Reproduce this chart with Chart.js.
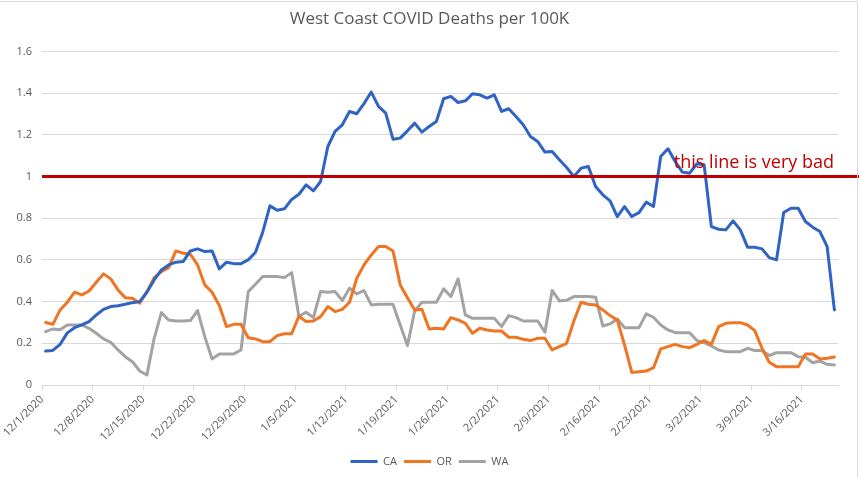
<!DOCTYPE html>
<html>
<head>
<meta charset="utf-8">
<script src="https://cdn.jsdelivr.net/npm/chart.js@4/dist/chart.umd.min.js"></script>
<style>
    html, body { margin: 0; padding: 0; background: #fff; }
    #wrap { width: 859px; height: 477px; position: relative; }
</style>
</head>
<body>
<div id="wrap"><canvas id="deathsChart"></canvas></div>
<script>
// daily values, 12/1/2020 - 3/20/2021
const startDate = new Date(2020, 11, 1);
const dayCount = 110;

const caDeaths = [
    0.163, 0.166, 0.195, 0.25, 0.275, 0.288, 0.304, 0.336, 0.363, 0.376,
    0.38, 0.387, 0.395, 0.40, 0.445, 0.504, 0.552, 0.576, 0.589, 0.592,
    0.643, 0.653, 0.64, 0.643, 0.557, 0.589, 0.582, 0.582, 0.6, 0.637,
    0.733, 0.859, 0.838, 0.845, 0.89, 0.915, 0.96, 0.931, 0.976, 1.144,
    1.216, 1.248, 1.312, 1.301, 1.35, 1.405, 1.336, 1.304, 1.179, 1.184,
    1.219, 1.256, 1.213, 1.24, 1.264, 1.373, 1.384, 1.355, 1.363, 1.397,
    1.392, 1.376, 1.392, 1.312, 1.325, 1.288, 1.248, 1.192, 1.168, 1.117,
    1.12, 1.08, 1.043, 1.0, 1.04, 1.048, 0.952, 0.912, 0.883, 0.808,
    0.856, 0.808, 0.827, 0.877, 0.856, 1.096, 1.133, 1.072, 1.021, 1.016,
    1.061, 1.056, 0.76, 0.747, 0.744, 0.787, 0.744, 0.661, 0.661, 0.653,
    0.611, 0.6, 0.827, 0.848, 0.848, 0.784, 0.757, 0.736, 0.664, 0.36
];

const orDeaths = [
    0.30, 0.291, 0.36, 0.397, 0.445, 0.432, 0.451, 0.493, 0.533, 0.509,
    0.456, 0.419, 0.416, 0.392, 0.448, 0.515, 0.544, 0.563, 0.643, 0.632,
    0.627, 0.576, 0.48, 0.445, 0.381, 0.28, 0.291, 0.291, 0.227, 0.221,
    0.208, 0.208, 0.237, 0.246, 0.246, 0.33, 0.304, 0.307, 0.328, 0.376,
    0.352, 0.363, 0.397, 0.512, 0.576, 0.624, 0.664, 0.664, 0.643, 0.48,
    0.419, 0.36, 0.363, 0.269, 0.272, 0.269, 0.323, 0.312, 0.296, 0.248,
    0.272, 0.264, 0.259, 0.259, 0.229, 0.229, 0.219, 0.213, 0.224, 0.224,
    0.168, 0.184, 0.2, 0.307, 0.397, 0.387, 0.384, 0.36, 0.333, 0.312,
    0.192, 0.06, 0.064, 0.067, 0.083, 0.173, 0.184, 0.195, 0.184, 0.179,
    0.195, 0.213, 0.195, 0.28, 0.296, 0.299, 0.299, 0.288, 0.261, 0.176,
    0.109, 0.088, 0.088, 0.088, 0.088, 0.149, 0.149, 0.125, 0.128, 0.134
];

const waDeaths = [
    0.256, 0.269, 0.265, 0.288, 0.288, 0.288, 0.272, 0.248, 0.221, 0.205,
    0.168, 0.136, 0.112, 0.067, 0.048, 0.224, 0.347, 0.312, 0.307, 0.307,
    0.309, 0.357, 0.232, 0.125, 0.149, 0.149, 0.149, 0.168, 0.448, 0.483,
    0.52, 0.52, 0.52, 0.515, 0.539, 0.33, 0.349, 0.323, 0.448, 0.445,
    0.448, 0.405, 0.464, 0.437, 0.453, 0.384, 0.387, 0.387, 0.387, 0.288,
    0.189, 0.355, 0.397, 0.397, 0.397, 0.461, 0.424, 0.509, 0.336, 0.32,
    0.32, 0.32, 0.32, 0.28, 0.333, 0.323, 0.307, 0.307, 0.307, 0.253,
    0.453, 0.403, 0.406, 0.424, 0.424, 0.424, 0.421, 0.283, 0.293, 0.317,
    0.275, 0.275, 0.275, 0.341, 0.325, 0.288, 0.264, 0.251, 0.251, 0.251,
    0.213, 0.203, 0.187, 0.168, 0.16, 0.16, 0.16, 0.176, 0.165, 0.165,
    0.141, 0.155, 0.155, 0.155, 0.136, 0.133, 0.107, 0.115, 0.099, 0.096
];

const threshold = 1;
const thresholdText = 'this line is very bad';

const dateLabels = [];
for (let i = 0; i < dayCount; i++) {
    const d = new Date(startDate);
    d.setDate(d.getDate() + i);
    dateLabels.push((d.getMonth() + 1) + '/' + d.getDate() + '/' + d.getFullYear());
}

const textColor = '#595959';
const gridColor = '#d9d9d9';
const baseFont = '"Open Sans", "Noto Sans", sans-serif';

// red threshold line + note, plus the outer chart frame
const badLinePlugin = {
    id: 'badLine',
    afterLayout(chart) {
        // title and legend are centred on the whole canvas, not the padded area
        [chart.titleBlock, chart.legend].forEach(box => {
            if (!box) return;
            box.left = 0;
            box.right = chart.width;
            box.width = chart.width;
        });
    },
    afterDatasetsDraw(chart) {
        const ctx = chart.ctx;
        const area = chart.chartArea;
        const y = chart.scales.y.getPixelForValue(threshold);
        ctx.save();
        ctx.strokeStyle = '#c00000';
        ctx.lineWidth = 3;
        ctx.beginPath();
        ctx.moveTo(area.left, y);
        ctx.lineTo(chart.width, y);
        ctx.stroke();
        ctx.fillStyle = '#c00000';
        ctx.font = '18px ' + baseFont;
        ctx.textAlign = 'right';
        ctx.textBaseline = 'alphabetic';
        ctx.fillText(thresholdText, area.right - 4, y - 9);
        ctx.restore();
    },
    afterDraw(chart) {
        const ctx = chart.ctx;
        ctx.save();
        ctx.strokeStyle = gridColor;
        ctx.lineWidth = 1;
        ctx.beginPath();
        ctx.moveTo(0, 1.5);
        ctx.lineTo(857.5, 1.5);
        ctx.lineTo(857.5, chart.height);
        ctx.stroke();
        ctx.restore();
    }
};

const ctx = document.getElementById('deathsChart').getContext('2d');
new Chart(ctx, {
    type: 'line',
    data: {
        labels: dateLabels,
        datasets: [
            { label: 'CA', data: caDeaths, borderColor: '#2f63c4', backgroundColor: '#2f63c4' },
            { label: 'OR', data: orDeaths, borderColor: '#f07522', backgroundColor: '#f07522' },
            { label: 'WA', data: waDeaths, borderColor: '#a3a3a3', backgroundColor: '#a3a3a3' }
        ]
    },
    options: {
        responsive: true,
        maintainAspectRatio: false,
        animation: false,
        elements: {
            line: { borderWidth: 3, tension: 0, borderJoinStyle: 'round', borderCapStyle: 'round' },
            point: { radius: 0 }
        },
        layout: { padding: { left: 0, right: 21, top: 0, bottom: 0 } },
        plugins: {
            title: {
                display: true,
                text: 'West Coast COVID Deaths per 100K',
                color: textColor,
                font: { family: baseFont, size: 17, weight: 'normal' },
                padding: { top: 9, bottom: 22 }
            },
            legend: {
                position: 'bottom',
                labels: {
                    color: textColor,
                    font: { family: baseFont, size: 11 },
                    boxWidth: 27,
                    boxHeight: 3,
                    padding: 7,
                    generateLabels(chart) {
                        return Chart.defaults.plugins.legend.labels.generateLabels(chart).map(item => {
                            item.lineWidth = 0;
                            return item;
                        });
                    }
                }
            },
            tooltip: { enabled: false }
        },
        scales: {
            x: {
                offset: true,
                grid: {
                    offset: true,
                    drawOnChartArea: false,
                    tickLength: 5,
                    tickColor: c => (c.index % 7 === 0 ? gridColor : 'rgba(0,0,0,0)')
                },
                border: { color: gridColor },
                ticks: {
                    autoSkip: false,
                    maxRotation: 45,
                    minRotation: 45,
                    labelOffset: -3.6,
                    color: textColor,
                    font: { family: baseFont, size: 11 },
                    callback(value, index) {
                        return index % 7 === 0 ? dateLabels[index] : '';
                    }
                },
                afterFit(scale) { scale.height = 64; }
            },
            y: {
                min: 0,
                max: 1.6,
                grid: { color: gridColor, drawTicks: false },
                border: { display: false },
                ticks: {
                    stepSize: 0.2,
                    padding: 10,
                    color: textColor,
                    font: { family: baseFont, size: 11 },
                    callback: value => String(Number(value.toFixed(1)))
                },
                afterFit(scale) { scale.width = 42; }
            }
        }
    },
    plugins: [badLinePlugin]
});
</script>
</body>
</html>
